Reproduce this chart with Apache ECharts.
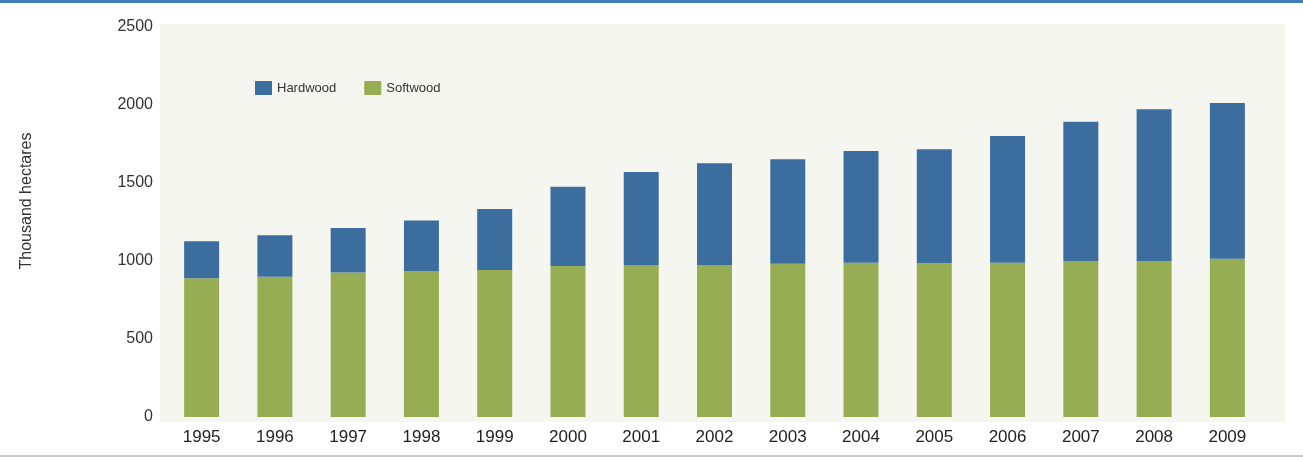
<!DOCTYPE html>
<html>
<head>
<meta charset="utf-8">
<script src="https://cdn.jsdelivr.net/npm/echarts@6/dist/echarts.min.js"></script>
<style>
html,body{margin:0;padding:0;background:#fff;}
#c{width:1303px;height:460px;}
</style>
</head>
<body>
<div id="c"></div>
<script>
const years = ['1995','1996','1997','1998','1999','2000','2001','2002','2003','2004','2005','2006','2007','2008','2009'];
const softwood = [889, 899, 927, 936, 942, 968, 974, 974, 983, 989, 985, 989, 998, 998, 1015];
const hardwood = [237, 266, 285, 324, 391, 508, 597, 652, 669, 716, 731, 812, 895, 974, 998];
const yTicks = [0, 500, 1000, 1500, 2000, 2500];
const yName = 'Thousand hectares';

const chart = echarts.init(document.getElementById('c'));
chart.setOption({
  backgroundColor: '#ffffff',
  animation: false,
  textStyle: {fontFamily: 'Liberation Sans, Arial, sans-serif'},
  graphic: [
    {type: 'rect', left: 0, top: 0, shape: {width: 1303, height: 3}, style: {fill: '#3f7fb5'}},
    {type: 'rect', left: 0, top: 455, shape: {width: 1303, height: 2}, style: {fill: '#c9ccd0'}},
    {type: 'rect', z: -1, left: 160, top: 24, shape: {width: 1125, height: 398}, style: {fill: '#f6f6f1'}},
    {type: 'text', x: 27, y: 201, rotation: Math.PI / 2,
     style: {text: yName, fontSize: 16, fill: '#333', align: 'center', verticalAlign: 'middle',
             fontFamily: 'Liberation Sans, Arial, sans-serif'}}
  ],
  legend: {
    left: 250, top: 76, icon: 'rect',
    itemWidth: 17, itemHeight: 14, itemGap: 28,
    textStyle: {fontSize: 13, color: '#333'},
    data: ['Hardwood', 'Softwood']
  },
  grid: {left: 165, right: 39, top: 27, bottom: 43, containLabel: false},
  xAxis: {
    type: 'category', data: years,
    axisLine: {show: false}, axisTick: {show: false},
    axisLabel: {fontSize: 17, color: '#222', margin: 12}
  },
  yAxis: {
    type: 'value', min: yTicks[0], max: yTicks[yTicks.length - 1], interval: 500,
    axisLine: {show: false}, axisTick: {show: false}, splitLine: {show: false},
    axisLabel: {fontSize: 16, color: '#333', margin: 12, formatter: v => String(v)}
  },
  series: [
    {name: 'Softwood', type: 'bar', stack: 'a', data: softwood, barWidth: 35,
     itemStyle: {color: '#97ad54'}},
    {name: 'Hardwood', type: 'bar', stack: 'a', data: hardwood, barWidth: 35,
     itemStyle: {color: '#3b6e9f'}}
  ]
});
</script>
</body>
</html>
